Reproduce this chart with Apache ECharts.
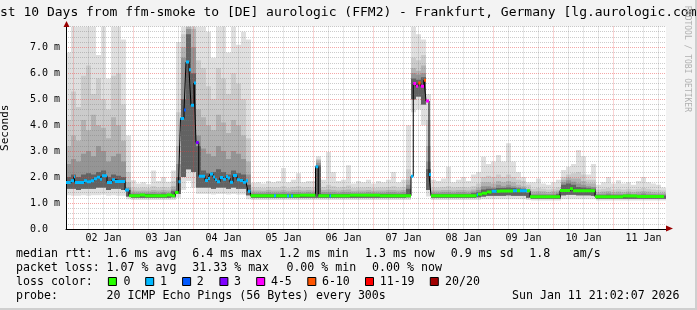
<!DOCTYPE html>
<html>
<head>
<meta charset="utf-8">
<script src="https://cdn.jsdelivr.net/npm/echarts@6/dist/echarts.min.js"></script>
<style>
html,body{margin:0;padding:0;background:#f3f3f3;}
#chart{width:697px;height:310px;}
</style>
</head>
<body>
<div id="chart"></div>
<script>
// ---------- DATA (hours since Jan 1 00:00) ----------
const T_START = 21, T_END = 261, BUCKET = 2;
const dayLabels = ['02 Jan','03 Jan','04 Jan','05 Jan','06 Jan','07 Jan','08 Jan','09 Jan','10 Jan','11 Jan'];

// smoke (2-hour buckets): max ping, band tops, band bottoms, min ping (ms)
const smokeHi = [
 6.8,7.8,7.8,7.8,7.8,7.8,6.7,7.8,5.8,7.8,7.8,7.3,3.6,
 1.88,1.75,1.8,1.72,2.25,1.85,2.0,1.82,2.25,
 7.2,7.8,7.8,7.8,7.8,
 7.8,7.6,6.6,7.8,7.8,6.8,7.8,7.1,7.6,7.3,
 1.78,1.8,1.75,1.85,1.8,1.85,2.35,1.8,1.9,2.15,1.8,1.85,1.85,
 2.8,1.9,2.97,2.2,1.85,1.9,2.46,1.75,1.85,1.8,1.9,1.75,1.85,1.8,1.9,2.2,1.8,1.9,4.0,
 7.8,7.5,7.3,5.2,
 1.9,1.85,1.95,2.4,1.8,1.9,2.0,1.85,2.1,
 2.2,2.78,2.5,2.6,2.85,2.6,3.3,2.6,2.2,2.0,1.8,
 1.8,1.95,1.75,1.7,1.8,1.9,
 2.27,2.4,2.5,3.04,2.8,2.1,2.5,
 1.7,1.8,2.0,1.75,1.88,1.75,1.8,1.7,1.85,2.0,1.8,1.75,1.7,1.6
];
const smokeU2 = [
 4.2,5.3,4.7,5.9,6.3,5.2,5.8,5.0,4.6,5.9,6.0,4.8,2.2,
 1.6,1.58,1.6,1.58,1.65,1.6,1.62,1.6,1.85,
 4.5,7.5,7.8,7.8,6.5,
 6.2,5.5,5.0,6.2,5.8,5.2,6.0,5.6,5.0,3.5,
 1.6,1.6,1.58,1.62,1.6,1.6,1.65,1.58,1.62,1.65,1.6,1.62,1.6,
 2.7,1.62,1.7,1.65,1.6,1.62,1.68,1.58,1.6,1.6,1.62,1.58,1.6,1.6,1.62,1.65,1.6,1.62,2.3,
 6.6,6.5,6.7,4.2,
 1.6,1.6,1.62,1.65,1.6,1.62,1.62,1.6,1.65,
 1.75,2.0,2.05,2.0,2.1,2.0,2.1,2.0,1.9,1.85,1.7,
 1.55,1.58,1.55,1.52,1.55,1.6,
 2.0,2.1,2.15,2.2,2.1,1.9,1.9,
 1.52,1.55,1.58,1.52,1.55,1.52,1.55,1.52,1.55,1.58,1.55,1.52,1.5,1.48
];
const smokeU3 = [
 3.2,3.6,3.4,4.2,3.8,4.4,4.0,3.9,3.5,4.3,4.0,3.4,1.8,
 1.48,1.47,1.48,1.47,1.5,1.48,1.5,1.48,1.65,
 3.2,7.0,7.8,7.7,4.6,
 4.3,4.0,3.8,4.4,4.1,3.7,4.2,4.0,3.6,2.6,
 1.48,1.48,1.47,1.5,1.48,1.48,1.5,1.47,1.5,1.5,1.48,1.5,1.48,
 2.65,1.5,1.52,1.5,1.48,1.5,1.52,1.47,1.48,1.48,1.5,1.47,1.48,1.48,1.5,1.5,1.48,1.5,1.9,
 6.2,6.1,6.3,3.2,
 1.48,1.48,1.5,1.5,1.48,1.5,1.5,1.48,1.52,
 1.6,1.8,1.8,1.75,1.85,1.8,1.85,1.8,1.7,1.65,1.55,
 1.45,1.46,1.45,1.43,1.45,1.48,
 1.9,1.98,1.95,1.95,1.85,1.75,1.75,
 1.42,1.44,1.46,1.42,1.44,1.42,1.44,1.42,1.44,1.46,1.44,1.42,1.4,1.4
];
const smokeU4 = [
 2.5,2.7,2.6,2.9,3.0,2.8,3.2,3.0,2.6,2.8,2.9,2.6,1.6,
 1.4,1.4,1.4,1.4,1.42,1.4,1.42,1.4,1.52,
 2.5,6.6,7.7,7.0,3.6,
 3.1,2.9,2.8,3.2,3.0,2.7,3.0,2.9,2.7,2.1,
 1.4,1.4,1.4,1.42,1.4,1.4,1.42,1.4,1.42,1.42,1.4,1.42,1.4,
 2.55,1.42,1.42,1.42,1.4,1.42,1.42,1.4,1.4,1.4,1.42,1.4,1.4,1.4,1.42,1.42,1.4,1.42,1.7,
 6.0,5.95,6.0,2.6,
 1.4,1.4,1.42,1.42,1.4,1.42,1.42,1.4,1.44,
 1.5,1.65,1.65,1.6,1.7,1.65,1.7,1.65,1.6,1.58,1.45,
 1.36,1.37,1.36,1.35,1.36,1.4,
 1.8,1.88,1.82,1.75,1.7,1.65,1.62,
 1.35,1.36,1.38,1.35,1.36,1.35,1.37,1.35,1.36,1.38,1.36,1.35,1.34,1.34
];
const smokeU5 = [
 2.0,2.1,2.0,2.1,2.15,2.1,2.2,2.25,2.0,2.1,2.05,2.0,1.5,
 1.34,1.34,1.35,1.34,1.35,1.34,1.36,1.34,1.45,
 2.0,5.0,7.5,6.0,3.2,
 2.25,2.15,2.2,2.3,2.2,2.1,2.25,2.15,2.1,1.7,
 1.34,1.34,1.34,1.35,1.34,1.34,1.35,1.34,1.35,1.35,1.34,1.35,1.34,
 2.45,1.35,1.35,1.35,1.34,1.35,1.35,1.34,1.34,1.34,1.35,1.34,1.34,1.34,1.35,1.35,1.34,1.35,1.55,
 5.8,5.75,5.85,2.3,
 1.34,1.34,1.35,1.35,1.34,1.35,1.35,1.34,1.38,
 1.42,1.52,1.55,1.55,1.58,1.58,1.6,1.58,1.56,1.54,1.4,
 1.3,1.3,1.3,1.29,1.3,1.34,
 1.7,1.75,1.7,1.62,1.6,1.57,1.55,
 1.3,1.3,1.32,1.3,1.3,1.3,1.32,1.3,1.31,1.32,1.31,1.3,1.29,1.29
];
const smokeLo2 = [
 1.55,1.55,1.5,1.55,1.55,1.55,1.6,1.6,1.5,1.55,1.55,1.5,1.25,
 1.2,1.2,1.2,1.2,1.2,1.2,1.2,1.2,1.22,
 1.35,2.0,2.3,2.2,1.6,
 1.6,1.6,1.55,1.6,1.6,1.55,1.6,1.55,1.55,1.3,
 1.2,1.2,1.2,1.2,1.2,1.2,1.2,1.2,1.2,1.2,1.2,1.2,1.2,
 1.2,1.2,1.2,1.2,1.2,1.2,1.2,1.2,1.2,1.2,1.2,1.2,1.2,1.2,1.2,1.2,1.2,1.2,1.22,
 5.0,5.1,4.8,1.5,
 1.2,1.2,1.2,1.2,1.2,1.2,1.2,1.2,1.2,
 1.22,1.25,1.28,1.28,1.28,1.28,1.3,1.28,1.28,1.28,1.2,
 1.17,1.17,1.17,1.17,1.17,1.17,
 1.3,1.32,1.32,1.3,1.3,1.3,1.28,
 1.17,1.17,1.17,1.17,1.17,1.17,1.17,1.17,1.17,1.17,1.17,1.17,1.17,1.17
];
const smokeLo = [
 1.3,1.28,1.28,1.3,1.28,1.3,1.3,1.32,1.28,1.3,1.28,1.28,1.15,
 1.12,1.12,1.12,1.12,1.12,1.12,1.12,1.12,1.12,
 1.2,1.5,1.85,1.6,1.35,
 1.35,1.35,1.33,1.35,1.35,1.33,1.35,1.33,1.33,1.15,
 1.12,1.12,1.12,1.12,1.12,1.12,1.12,1.12,1.12,1.12,1.12,1.12,1.12,
 1.12,1.12,1.12,1.12,1.12,1.12,1.12,1.12,1.12,1.12,1.12,1.12,1.12,1.12,1.12,1.12,1.12,1.12,1.12,
 4.5,4.6,4.0,1.25,
 1.12,1.12,1.12,1.12,1.12,1.12,1.12,1.12,1.12,
 1.12,1.15,1.15,1.15,1.15,1.15,1.15,1.15,1.15,1.15,1.12,
 1.1,1.1,1.1,1.1,1.1,1.1,
 1.15,1.15,1.15,1.15,1.15,1.15,1.15,
 1.1,1.1,1.1,1.1,1.1,1.1,1.1,1.1,1.1,1.1,1.1,1.1,1.1,1.1
];

// median rtt: segment start (hours), value (ms), loss class index
const medT = [21.0,22.9,24.2,24.6,28.2,29.4,31.0,32.2,33.4,34.6,35.4,37.4,39.4,40.6,44.6,46.2,50.6,52.6,61.4,63.4,64.6,66.0,66.8,68.2,69.0,70.2,71.0,72.2,73.0,74.1,76.6,77.8,78.6,79.8,80.6,81.4,82.6,83.8,85.0,85.8,86.6,87.8,89.4,90.6,91.8,93.0,93.8,94.8,104.2,105.0,109.4,110.2,111.0,111.8,114.6,120.8,121.9,126.4,127.0,134.6,146.6,159.0,159.9,161.0,161.9,162.9,164.2,165.0,166.2,167.0,185.3,185.8,187.4,189.4,191.3,193.3,194.6,199.8,201.4,202.6,205.4,206.6,218.6,222.6,223.8,232.6,243.8,249.4];
const medV = [1.79,1.86,2.01,1.79,1.86,1.82,1.86,1.94,1.99,1.92,2.05,1.79,1.9,1.83,1.5,1.28,1.31,1.28,1.31,1.28,1.41,1.82,4.26,4.58,6.43,6.13,4.77,5.62,3.33,2.03,1.87,1.95,2.12,2.0,1.9,1.82,1.98,1.92,2.02,1.96,1.8,2.06,1.9,1.87,1.8,1.86,1.45,1.28,1.28,1.28,1.27,1.28,1.27,1.28,1.3,2.4,1.28,1.27,1.28,1.3,1.28,2.03,5.6,5.5,5.62,5.5,5.73,4.93,2.1,1.28,1.32,1.34,1.38,1.43,1.45,1.45,1.46,1.47,1.47,1.47,1.47,1.24,1.48,1.55,1.47,1.24,1.27,1.25];
const medLoss = [1,1,1,1,1,1,1,1,1,1,1,1,1,1,1, 0,0,0,0,0,0, 1,1,2,1,1,1,1,3,1, 1,1,1,1,1,1,1,1,1,1,1,1,1,1,1,1,1, 0,1,0,1,0,1,0,0,1,0,1,0,0,0, 1,4,4,5,4,5,4,1, 0,1,0,0,0,1,0,0,1,0,1,0, 0,0,0,0,0,0,0];
const medEnd = 260.2;

const lossLabels = ['0','1','2','3','4-5','6-10','11-19','20/20'];
const lossColors = ['#26ff00','#00b8ff','#0059ff','#7e00ff','#ff00ff','#ff5500','#ff0000','#a00000'];

const titleText = 'Last 10 Days from ffm-smoke to [DE] aurologic (FFM2) - Frankfurt, Germany [lg.aurologic.com]';
const rttStats = ['1.6 ms avg','6.4 ms max','1.2 ms min','1.3 ms now','0.9 ms sd','1.8','am/s'];
const lossStats = ['1.07 % avg','31.33 % max','0.00 % min','0.00 % now'];
const probeText = '20 ICMP Echo Pings (56 Bytes) every 300s';
const stampText = 'Sun Jan 11 21:02:07 2026';

// ---------- LAYOUT ----------
const MONO = '"DejaVu Sans Mono", monospace';
const rttX = [106.6,192.3,278.9,365,450.7,529.3,572.8];
const lossX = [106.6,192.3,286.4,372.1];
const boxX = [107.9,145.2,182.1,219.4,256.2,307.3,365,429.8];
const boxLabelX = [123.4,159.9,196.7,234,270.9,321.9,379.7,445];
const rowY = [254, 268, 282, 296];

const bandColors = ['#dfdfdf','#cbcbcb','#b2b2b2','#959595','#626262'];
const bands = [
  [smokeLo, smokeHi], [smokeLo2, smokeU2], [smokeLo2, smokeU3], [smokeLo2, smokeU4], [smokeLo2, smokeU5]
];

function bandData(lo, hi) {
  return hi.map((h, i) => [T_START + BUCKET * i, T_START + BUCKET * (i + 1), lo[i], h]);
}
function rectRenderer(color) {
  return function (params, api) {
    const a = api.coord([api.value(0), api.value(3)]);
    const b = api.coord([api.value(1), api.value(2)]);
    return { type: 'rect', shape: { x: a[0], y: a[1], width: b[0] - a[0], height: b[1] - a[1] }, style: { fill: color } };
  };
}

const series = bands.map((b, k) => ({
  type: 'custom', name: 'smoke' + k, silent: true, z: 1, clip: true,
  encode: { x: [0, 1], y: [2, 3] },
  renderItem: rectRenderer(bandColors[k]),
  data: bandData(b[0], b[1])
}));

const medLine = medT.map((t, i) => [t, medV[i]]);
medLine.push([medEnd, medV[medV.length - 1]]);
series.push({
  type: 'line', name: 'median', data: medLine, step: 'end', symbol: 'none', silent: true, z: 5,
  lineStyle: { color: '#000', width: 1 }, animation: false
});
series.push({
  type: 'custom', name: 'loss', silent: true, z: 6, clip: true,
  encode: { x: [0, 1], y: 2 },
  renderItem: function (params, api) {
    const a = api.coord([api.value(0), api.value(2)]);
    const b = api.coord([api.value(1), api.value(2)]);
    return { type: 'rect', shape: { x: a[0], y: a[1] - 1.5, width: b[0] - a[0], height: 3 }, style: { fill: lossColors[api.value(3)] } };
  },
  data: medT.map((t, i) => [t, i + 1 < medT.length ? medT[i + 1] : medEnd, medV[i], medLoss[i]])
});

// ---------- GRAPHIC (texts, legend, frame) ----------
const graphic = [
  { type: 'rect', shape: { x: 695, y: 0, width: 2, height: 310 }, style: { fill: '#cfcfcf' }, silent: true },
  { type: 'rect', shape: { x: 0, y: 308, width: 697, height: 2 }, style: { fill: '#cfcfcf' }, silent: true },
  { type: 'text', x: -15.7, y: 12.5, style: { text: titleText, font: '13px ' + MONO, fill: '#000', textVerticalAlign: 'middle' } },
  { type: 'text', x: 687, y: 59, rotation: -Math.PI / 2, style: { text: 'RRDTOOL / TOBI OETIKER', font: '8px ' + MONO, fill: '#b0b0b0', textAlign: 'center', textVerticalAlign: 'middle' } },
  { type: 'polygon', z: 20, shape: { points: [[63.5, 27], [69.5, 27], [66.5, 21]] }, style: { fill: '#990000' } },
  { type: 'polygon', z: 20, shape: { points: [[666, 225.5], [666, 231.5], [673, 228.5]] }, style: { fill: '#990000' } }
];
function addText(t, x, y) {
  graphic.push({ type: 'text', x: x, y: y, style: { text: t, font: '11.6px ' + MONO, fill: '#000', textVerticalAlign: 'middle' } });
}
addText('median rtt:', 16, rowY[0]);
rttStats.forEach((t, i) => addText(t, rttX[i], rowY[0]));
addText('packet loss:', 16, rowY[1]);
lossStats.forEach((t, i) => addText(t, lossX[i], rowY[1]));
addText('loss color:', 16, rowY[2]);
lossLabels.forEach((t, i) => {
  graphic.push({ type: 'rect', shape: { x: boxX[i] + 0.5, y: rowY[2] - 4.5, width: 8, height: 8 }, style: { fill: lossColors[i], stroke: '#000', lineWidth: 1 } });
  addText(t, boxLabelX[i], rowY[2]);
});
addText('probe:', 16, rowY[3]);
addText(probeText, 106.6, rowY[3]);
addText(stampText, 512, rowY[3]);

// ---------- OPTION ----------
const MAJOR = 'rgba(230,60,60,0.45)';
const MINOR = 'rgba(120,120,120,0.38)';
const NONE = 'rgba(0,0,0,0)';

const option = {
  backgroundColor: '#f3f3f3',
  animation: false,
  grid: { left: 66, top: 26.5, width: 600, height: 202.5, show: true, backgroundColor: '#ffffff', borderWidth: 0, containLabel: false, outerBoundsMode: 'none' },
  xAxis: {
    type: 'value', min: T_START, max: T_END, interval: 3, z: 4,
    axisLine: { show: true, onZero: false, lineStyle: { color: '#000', width: 1 } },
    axisTick: { show: false },
    axisLabel: {
      fontFamily: MONO, fontSize: 10, color: '#000', margin: 4,
      formatter: function (v) {
        const k = (v - 36) / 24, r = Math.round(k);
        return (Math.abs(k - r) < 1e-6 && r >= 0 && r < dayLabels.length) ? dayLabels[r] : '';
      }
    },
    splitLine: { show: true, lineStyle: { color: [NONE, MAJOR, NONE, MINOR, NONE, MINOR, NONE, MINOR], type: [1, 1], width: 1 } }
  },
  yAxis: {
    type: 'value', min: 0, max: 7.8, interval: 0.2, z: 3,
    name: 'Seconds', nameLocation: 'middle', nameGap: 55, nameRotate: 90,
    nameTextStyle: { fontFamily: MONO, fontSize: 11, color: '#000' },
    axisLine: { show: true, lineStyle: { color: '#000', width: 1 } },
    axisTick: { show: false },
    axisLabel: {
      fontFamily: MONO, fontSize: 10, color: '#000', margin: 6,
      formatter: function (v) {
        const r = Math.round(v);
        if (Math.abs(v - r) > 1e-6) return '';
        return r === 0 ? '0.0  ' : r.toFixed(1) + ' m';
      }
    },
    splitLine: { show: true, lineStyle: { color: [MAJOR, MINOR, MINOR, MINOR, MINOR], type: [1, 1], width: 1 } }
  },
  series: series,
  graphic: graphic
};

const chart = echarts.init(document.getElementById('chart'), null, { renderer: 'canvas', width: 697, height: 310 });
chart.setOption(option);
</script>
</body>
</html>
